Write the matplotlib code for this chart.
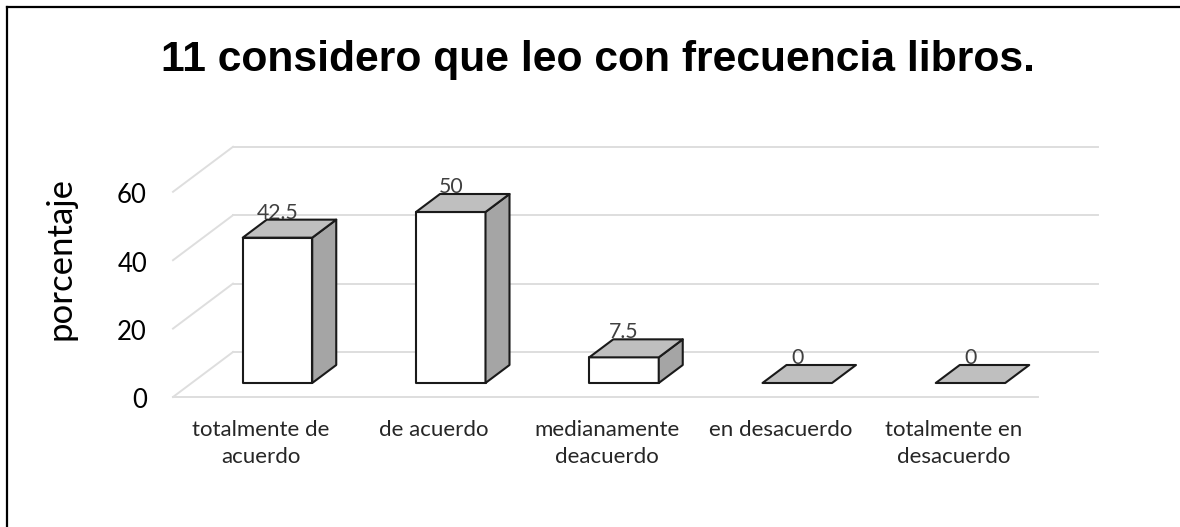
import matplotlib
matplotlib.use('Agg')
import matplotlib.pyplot as plt
from matplotlib.patches import Polygon

categorias = ['totalmente de\nacuerdo', 'de acuerdo', 'medianamente\ndeacuerdo',
              'en desacuerdo', 'totalmente en\ndesacuerdo']
porcentajes = [42.5, 50, 7.5, 0, 0]
etiquetas = ['42.5', '50', '7.5', '0', '0']
ticks_y = [0, 20, 40, 60]

W, H = 1180, 527

fig = plt.figure(figsize=(W / 100, H / 100), dpi=100)
ax = fig.add_axes([0, 0, 1, 1])

# escala: 173.25 px por categoria, 3.42 px por unidad; categoria 0 en x=277.5, valor 0 en y=383
ux, uy = 173.25, 3.42
ax.set_xlim(-277.5 / ux, (W - 277.5) / ux)
ax.set_ylim(-(H - 383) / uy, 383 / uy)
ax.axis('off')


def px(dx):
    return dx / ux


def py(dy):
    return dy / uy


# marco (solo se ve arriba e izquierda)
ax.plot([px(6.5 - 277.5), px(6.5 - 277.5)], [py(383 - 527), py(383 - 6.5)], color='black', lw=1.6, zorder=1)
ax.plot([px(6.5 - 277.5), px(1180 - 277.5)], [py(383 - 6.5), py(383 - 6.5)], color='black', lw=1.6, zorder=1)

# piso y paredes
gris = '#dedede'
x_izq, x_der = px(173 - 277.5), px(1038 - 277.5)
fondo_x, fondo_y = px(60), py(45)
piso = py(-14)
for v in ticks_y:
    y0 = v + piso
    ax.plot([x_izq, x_izq + fondo_x], [y0, y0 + fondo_y], color=gris, lw=1.4, zorder=2)
    ax.plot([x_izq + fondo_x, x_der + fondo_x], [y0 + fondo_y, y0 + fondo_y], color=gris, lw=1.4, zorder=2)
    ax.text(px(147 - 277.5), y0 - py(4), str(v), ha='right', va='center', fontsize=18.5,
            family='Lato', color='black')
ax.plot([x_izq, x_der], [piso, piso], color=gris, lw=1.4, zorder=2)

# barras 3D
ancho = px(69.5)
prof_x, prof_y = px(24), py(18)
for i, v in enumerate(porcentajes):
    x0 = i - ancho / 2
    x1 = i + ancho / 2
    estilo = dict(edgecolor='#1a1a1a', lw=1.5, joinstyle='round', zorder=3)
    if v > 0:
        ax.add_patch(Polygon([(x0, 0), (x1, 0), (x1, v), (x0, v)], facecolor='white', **estilo))
        ax.add_patch(Polygon([(x1, 0), (x1 + prof_x, prof_y), (x1 + prof_x, v + prof_y), (x1, v)],
                             facecolor='#a5a5a5', **estilo))
    ax.add_patch(Polygon([(x0, v), (x1, v), (x1 + prof_x, v + prof_y), (x0 + prof_x, v + prof_y)],
                         facecolor='#bfbfbf', **estilo))
    ax.text(i, v + prof_y - py(3), etiquetas[i], ha='center', va='bottom', fontsize=15.3,
            family='Lato', color='#404040', zorder=2.5)
    ax.text(i - px(17), py(-37), categorias[i], ha='center', va='top', fontsize=16,
            family='Lato', color='#262626', linespacing=1.45)

ax.text(px(60 - 277.5), py(383 - 259), 'porcentaje', rotation=90, ha='center', va='center',
        fontsize=25, family='Lato', color='black')

ax.text(px(598 - 277.5), py(383 - 60), '11 considero que leo con frecuencia libros.', ha='center',
        va='center', fontsize=30.7, fontweight='bold', family='Liberation Sans', color='black')

fig.savefig('out.png', dpi=100)
